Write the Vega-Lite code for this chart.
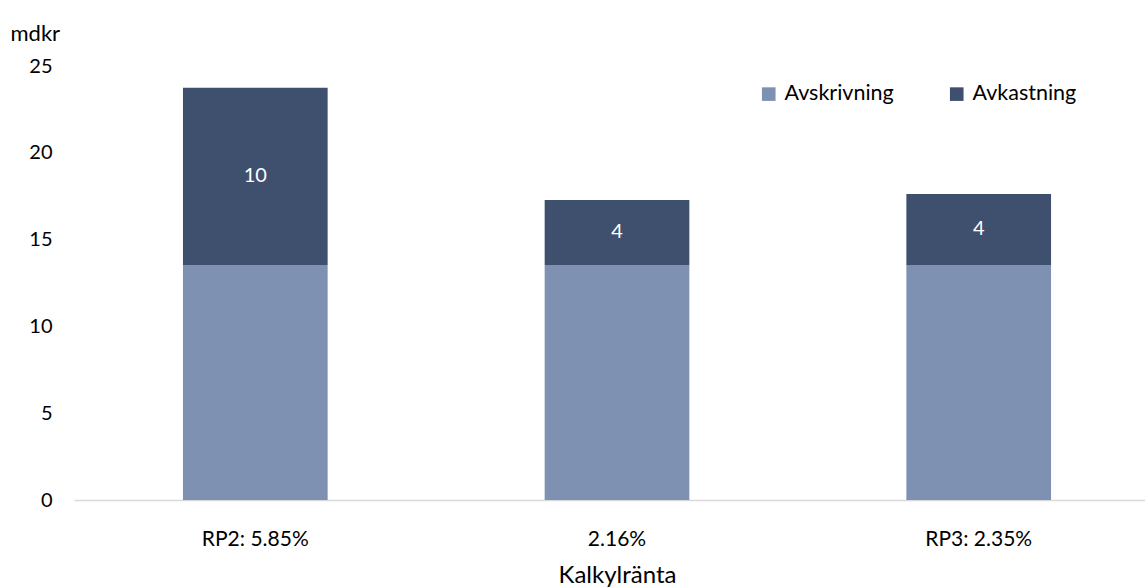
{
  "$schema": "https://vega.github.io/schema/vega-lite/v6.json",
  "width": 1071,
  "height": 434,
  "autosize": {"type": "none"},
  "padding": {"left": 74, "top": 66, "right": 0, "bottom": 87},
  "background": "white",
  "config": {
    "font": "Lato",
    "view": {"stroke": null},
    "axis": {"labelFont": "Lato", "titleFont": "Lato", "labelColor": "#000000", "titleColor": "#000000", "labelFontWeight": "normal", "titleFontWeight": "normal"}
  },
  "data": {
    "values": [
      {"cat": "RP2: 5.85%", "serie": "Avskrivning", "v": 13.54},
      {"cat": "RP2: 5.85%", "serie": "Avkastning", "v": 10.2},
      {"cat": "2.16%", "serie": "Avskrivning", "v": 13.54},
      {"cat": "2.16%", "serie": "Avkastning", "v": 3.74},
      {"cat": "RP3: 2.35%", "serie": "Avskrivning", "v": 13.54},
      {"cat": "RP3: 2.35%", "serie": "Avkastning", "v": 4.09}
    ]
  },
  "encoding": {
    "x": {
      "field": "cat",
      "type": "nominal",
      "sort": ["RP2: 5.85%", "2.16%", "RP3: 2.35%"],
      "scale": {"paddingInner": 0.6, "paddingOuter": 0.2805, "align": 0.537},
      "axis": {
        "title": "Kalkylränta",
        "titleX": 543,
        "labelAngle": 0,
        "labelFontSize": 21,
        "titleFontSize": 24,
        "ticks": false,
        "labelPadding": 28,
        "titlePadding": 14,
        "domainColor": "#D9D9D9",
        "domainWidth": 1.5
      }
    },
    "order": {"field": "serie", "sort": "descending"}
  },
  "layer": [
    {
      "mark": {"type": "bar"},
      "encoding": {
        "y": {
          "field": "v",
          "type": "quantitative",
          "stack": "zero",
          "scale": {"domain": [0, 25], "nice": false},
          "axis": {
            "title": "mdkr",
            "titleAngle": 0,
            "titleAlign": "left",
            "titleBaseline": "middle",
            "titleX": -64,
            "titleY": -33,
            "titleFontSize": 22,
            "labelFontSize": 20,
            "values": [0, 5, 10, 15, 20, 25],
            "grid": false,
            "ticks": false,
            "domain": false,
            "labelPadding": 22
          }
        },
        "color": {
          "field": "serie",
          "type": "nominal",
          "sort": ["Avskrivning", "Avkastning"],
          "scale": {"domain": ["Avskrivning", "Avkastning"], "range": ["#7F91B3", "#3F506F"]},
          "legend": {
            "title": null,
            "orient": "none",
            "direction": "horizontal",
            "legendX": 684,
            "legendY": 17,
            "symbolType": "square",
            "symbolSize": 185,
            "symbolStrokeWidth": 0,
            "labelFontSize": 21.5,
            "labelFont": "Lato",
            "labelColor": "#000000",
            "labelOffset": 5,
            "columnPadding": 52
          }
        }
      }
    },
    {
      "mark": {"type": "text", "color": "white", "fontSize": 20, "font": "Lato", "baseline": "middle"},
      "encoding": {
        "y": {"field": "v", "type": "quantitative", "stack": "zero", "bandPosition": 0.5},
        "detail": {"field": "serie"},
        "text": {
          "condition": {"test": "datum.serie === 'Avkastning'", "field": "v", "type": "quantitative", "format": ".0f"},
          "value": ""
        }
      }
    }
  ]
}
